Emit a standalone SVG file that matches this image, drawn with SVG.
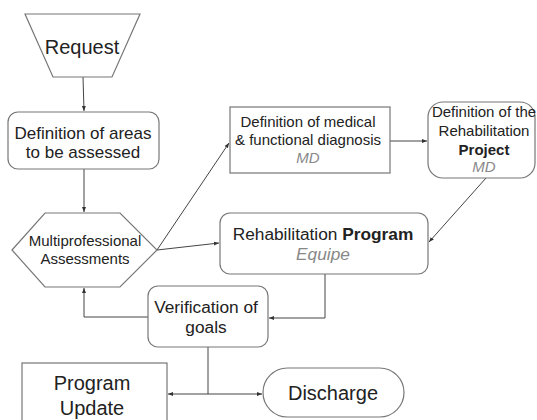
<svg xmlns="http://www.w3.org/2000/svg" width="537" height="420" viewBox="0 0 537 420">
<defs>
<marker id="ah" viewBox="0 0 10 10" refX="10" refY="5" markerWidth="5" markerHeight="5" orient="auto" markerUnits="userSpaceOnUse">
<path d="M0,1 L10,5 L0,9 z" fill="#333"/>
</marker>
<style>
.shape{fill:#fff;stroke:#777;stroke-width:1.2}
.t{font-family:"Liberation Sans",Arial,sans-serif;fill:#222;text-anchor:middle}
.g{fill:#888;font-style:italic}
.c{fill:none;stroke:#444;stroke-width:1;marker-end:url(#ah)}
.l{fill:none;stroke:#444;stroke-width:1}
</style>
</defs>
<rect width="537" height="420" fill="#fff"/>
<g id="connectors">
<line class="c" x1="83" y1="77" x2="84" y2="111"/>
<line class="c" x1="84" y1="169" x2="84" y2="212"/>
<line class="c" x1="157" y1="250" x2="229" y2="143"/>
<line class="c" x1="157" y1="250" x2="219" y2="243"/>
<line class="c" x1="390" y1="141" x2="427" y2="141"/>
<line class="c" x1="486" y1="178" x2="429" y2="242"/>
<polyline class="c" points="325,274 325,318 269,318"/>
<polyline class="c" points="148,317 84,317 84,288"/>
<line class="l" x1="208" y1="347" x2="208" y2="394"/>
<line class="c" x1="208" y1="394" x2="168" y2="394"/>
<line class="c" x1="208" y1="394" x2="262" y2="394"/>
</g>
<g id="request">
<polygon class="shape" points="25,14 140,14 112,77 53,77"/>
<text class="t" x="82" y="54" font-size="20">Request</text>
</g>
<g id="areas">
<rect class="shape" x="8" y="112" width="151" height="57" rx="10"/>
<text class="t" x="83" y="139" font-size="17">Definition of areas</text>
<text class="t" x="83" y="158" font-size="17">to be assessed</text>
</g>
<g id="assessments">
<polygon class="shape" points="12,250 45,213 120,213 157,250 120,287 45,287"/>
<text class="t" x="85" y="246" font-size="15">Multiprofessional</text>
<text class="t" x="85" y="264" font-size="15">Assessments</text>
</g>
<g id="diagnosis">
<rect class="shape" x="230" y="107" width="160" height="66"/>
<text class="t" x="308" y="127" font-size="15">Definition of medical</text>
<text class="t" x="308" y="145" font-size="15">&amp; functional diagnosis</text>
<text class="t g" x="308" y="163" font-size="15">MD</text>
</g>
<g id="project">
<rect class="shape" x="428" y="102" width="107" height="76" rx="15"/>
<text class="t" x="484" y="117" font-size="15">Definition of the</text>
<text class="t" x="484" y="136" font-size="15">Rehabilitation</text>
<text class="t" x="484" y="155" font-size="15" font-weight="bold">Project</text>
<text class="t g" x="484" y="172" font-size="15">MD</text>
</g>
<g id="program">
<rect class="shape" x="220" y="213" width="208" height="61" rx="10"/>
<text class="t" x="323" y="240" font-size="17.3">Rehabilitation <tspan font-weight="bold">Program</tspan></text>
<text class="t g" x="323" y="260" font-size="17.3">Equipe</text>
</g>
<g id="verification">
<rect class="shape" x="148" y="286" width="120" height="61" rx="10"/>
<text class="t" x="206" y="313" font-size="17.3">Verification of</text>
<text class="t" x="206" y="333" font-size="17.3">goals</text>
</g>
<g id="update">
<rect class="shape" x="22" y="363" width="145" height="70"/>
<text class="t" x="92" y="390" font-size="20">Program</text>
<text class="t" x="92" y="415" font-size="20">Update</text>
</g>
<g id="discharge">
<rect class="shape" x="263" y="368" width="141" height="49" rx="24.5"/>
<text class="t" x="333" y="400" font-size="20">Discharge</text>
</g>
</svg>
